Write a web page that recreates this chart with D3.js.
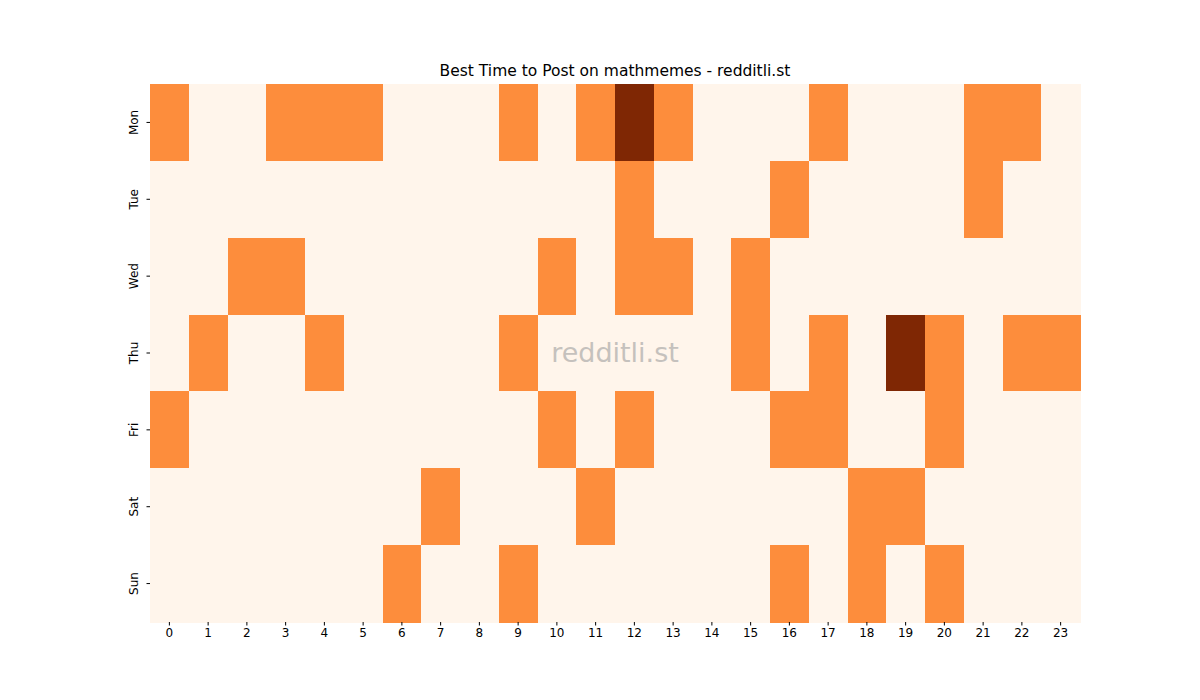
<!DOCTYPE html>
<html><head><meta charset="utf-8">
<script src="https://cdn.jsdelivr.net/npm/d3@7"></script>
<style>body{margin:0;background:#fff}text{font-family:"DejaVu Sans",sans-serif}</style>
</head><body><svg width="1200" height="700"></svg>
<script>
const days=["Mon","Tue","Wed","Thu","Fri","Sat","Sun"]
const hours=d3.range(24)
// activity level per day, hour: 0 low, 1 medium, 2 high
const mon=[1,0,0,1,1,1,0,0,0,1,0,1,2,1,0,0,0,1,0,0,0,1,1,0]
const tue=[0,0,0,0,0,0,0,0,0,0,0,0,1,0,0,0,1,0,0,0,0,1,0,0]
const wed=[0,0,1,1,0,0,0,0,0,0,1,0,1,1,0,1,0,0,0,0,0,0,0,0]
const thu=[0,1,0,0,1,0,0,0,0,1,0,0,0,0,0,1,0,1,0,2,1,0,1,1]
const fri=[1,0,0,0,0,0,0,0,0,0,1,0,1,0,0,0,1,1,0,0,1,0,0,0]
const sat=[0,0,0,0,0,0,0,1,0,0,0,1,0,0,0,0,0,0,1,1,0,0,0,0]
const sun=[0,0,0,0,0,0,1,0,0,1,0,0,0,0,0,0,1,0,1,0,1,0,0,0]
const rows=[mon,tue,wed,thu,fri,sat,sun]

const svg=d3.select("svg")
const x=d3.scaleBand().domain(hours).range([150,1080])
const y=d3.scaleBand().domain(days).range([84,622])
const color=d3.scaleOrdinal().domain([0,1,2]).range(["#fff5eb","#fd8d3c","#7f2704"])

const cells=[]
rows.forEach((r,i)=>r.forEach((v,h)=>cells.push({day:days[i],hour:h,v})))
svg.selectAll("rect").data(cells).join("rect")
  .attr("x",d=>x(d.hour)).attr("y",d=>y(d.day))
  .attr("width",x.bandwidth()+0.6).attr("height",y.bandwidth()+0.6)
  .attr("shape-rendering","crispEdges")
  .attr("fill",d=>color(d.v))

const xa=svg.append("g").attr("transform","translate(0,622)").call(d3.axisBottom(x).tickSizeOuter(0).tickSize(3.5))
const ya=svg.append("g").attr("transform","translate(150,0)").call(d3.axisLeft(y).tickSizeOuter(0).tickSize(3.5))
xa.select(".domain").remove();ya.select(".domain").remove()
xa.selectAll("text").attr("font-size",12).attr("fill","#000")
ya.selectAll(".tick text").attr("font-size",12).attr("fill","#000")
  .attr("text-anchor","middle").attr("transform","rotate(-90)").attr("x",0).attr("y",-12).attr("dy","0")

svg.append("text").attr("x",615).attr("y",76).attr("text-anchor","middle").attr("font-size",15.5).text("Best Time to Post on mathmemes - redditli.st")
svg.append("text").attr("x",615).attr("y",362).attr("text-anchor","middle").attr("font-size",27).attr("fill","#a0a0a0").attr("opacity",0.6).text("redditli.st")
</script></body></html>
